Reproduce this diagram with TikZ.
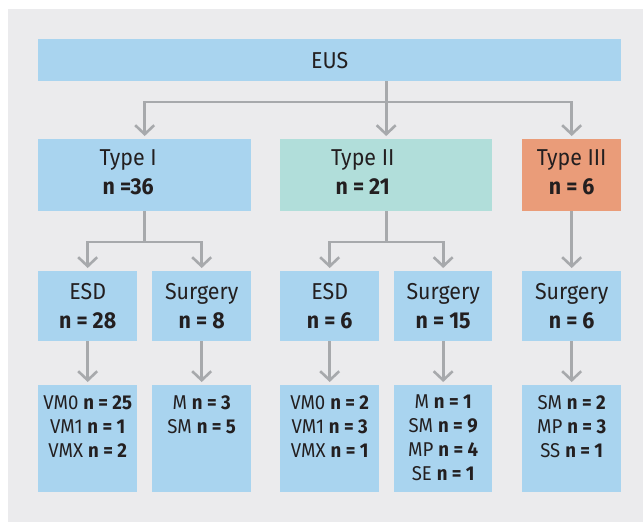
\documentclass[tikz,border=0pt]{standalone}
\usepackage{fontspec}
\setmainfont{Fira Sans}[FakeStretch=0.93]
\usetikzlibrary{arrows.meta}
\definecolor{panelgray}{HTML}{EBEBED}
\definecolor{boxblue}{HTML}{A9D4EF}
\definecolor{boxteal}{HTML}{B1DEDA}
\definecolor{boxorange}{HTML}{EA9C79}
\definecolor{linegray}{HTML}{A7A9AC}
\definecolor{textdark}{HTML}{231F20}
\tikzset{
  box/.style={fill=boxblue, anchor=north west, inner sep=0pt},
  big/.style={font=\fontsize{23}{29}\selectfont, text=textdark, align=center},
  small/.style={font=\fontsize{20}{24}\selectfont, text=textdark, align=center, anchor=north, inner sep=0pt},
  link/.style={draw=linegray, line width=2.6pt},
  arr/.style={link, -{Straight Barb[length=9pt,width=19pt]}, shorten >=3pt}
}
\begin{document}
\begin{tikzpicture}[x=1pt, y=-1pt]
      \useasboundingbox (0,0) rectangle (643,523);
      \fill[white] (0,0) rectangle (643,523);
      \fill[panelgray] (8,9) rectangle (643,522);
      \node[box, minimum width=583pt, minimum height=42pt] (eus) at (38,39) {};
      \node[box, minimum width=213pt, minimum height=72pt] (t1) at (38,139) {};
      \node[box, fill=boxteal, minimum width=212pt, minimum height=72pt] (t2) at (280,139) {};
      \node[box, fill=boxorange, minimum width=99pt, minimum height=72pt] (t3) at (522,139) {};
      \node[box, minimum width=99pt, minimum height=70pt] (esd1) at (38,271) {};
      \node[box, minimum width=99pt, minimum height=70pt] (surg1) at (152,271) {};
      \node[box, minimum width=99pt, minimum height=70pt] (esd2) at (280,271) {};
      \node[box, minimum width=98pt, minimum height=70pt] (surg2) at (394,271) {};
      \node[box, minimum width=99pt, minimum height=70pt] (surg3) at (522,271) {};
      \node[box, minimum width=99pt, minimum height=107pt] (res1) at (38,385) {};
      \node[box, minimum width=99pt, minimum height=107pt] (res2) at (152,385) {};
      \node[box, minimum width=99pt, minimum height=107pt] (res3) at (280,385) {};
      \node[box, minimum width=98pt, minimum height=107pt] (res4) at (394,385) {};
      \node[box, minimum width=99pt, minimum height=107pt] (res5) at (522,385) {};

      \node[big] (eusT) at (eus.center) {EUS};
      \node[big] (t1T) at ([xshift=-16.5pt,yshift=3pt]t1.center) {Type I\\\textbf{n =36}};
      \node[big] (t2T) at ([xshift=-23.5pt,yshift=3pt]t2.center) {Type II\\\textbf{n = 21}};
      \node[big] (t3T) at ([yshift=3pt]t3.center) {Type III\\\textbf{n = 6}};
      \node[big] (esd1T) at (esd1.center) {ESD\\\textbf{n = 28}};
      \node[big] (surg1T) at (surg1.center) {Surgery\\\textbf{n = 8}};
      \node[big] (esd2T) at (esd2.center) {ESD\\\textbf{n = 6}};
      \node[big] (surg2T) at (surg2.center) {Surgery\\\textbf{n = 15}};
      \node[big] (surg3T) at (surg3.center) {Surgery\\\textbf{n = 6}};
      \node[small] (res1T) at ([yshift=-10pt]res1.north) {VM0 \textbf{n = 25}\\VM1 \textbf{n = 1}\\VMX \textbf{n = 2}};
      \node[small] (res2T) at ([yshift=-10pt]res2.north) {M \textbf{n = 3}\\SM \textbf{n = 5}};
      \node[small] (res3T) at ([yshift=-10pt]res3.north) {VM0 \textbf{n = 2}\\VM1 \textbf{n = 3}\\VMX \textbf{n = 1}};
      \node[small] (res4T) at ([yshift=-10pt]res4.north) {M \textbf{n = 1}\\SM \textbf{n = 9}\\MP \textbf{n = 4}\\SE \textbf{n = 1}};
      \node[small] (res5T) at ([yshift=-10pt]res5.north) {SM \textbf{n = 2}\\MP \textbf{n = 3}\\SS \textbf{n = 1}};

      \coordinate (jA) at (0,102);
      \coordinate (jB) at (0,242);
      \draw[link] (eus.south -| t2.north) -- (jA -| t2.north);
      \draw[arr] (jA -| t2.north) -| (t1.north);
      \draw[arr] (jA -| t2.north) -| (t3.north);
      \draw[arr] (jA -| t2.north) -- (t2.north);
      \draw[link] (t1.south) -- (jB -| t1.south);
      \draw[arr] (jB -| t1.south) -| (esd1.north);
      \draw[arr] (jB -| t1.south) -| (surg1.north);
      \draw[link] (t2.south) -- (jB -| t2.south);
      \draw[arr] (jB -| t2.south) -| (esd2.north);
      \draw[arr] (jB -| t2.south) -| (surg2.north);
      \draw[arr] (t3.south) -- (surg3.north);
      \draw[arr] (esd1.south) -- (res1.north);
      \draw[arr] (surg1.south) -- (res2.north);
      \draw[arr] (esd2.south) -- (res3.north);
      \draw[arr] (surg2.south) -- (res4.north);
      \draw[arr] (surg3.south) -- (res5.north);
    \end{tikzpicture}
\end{document}
